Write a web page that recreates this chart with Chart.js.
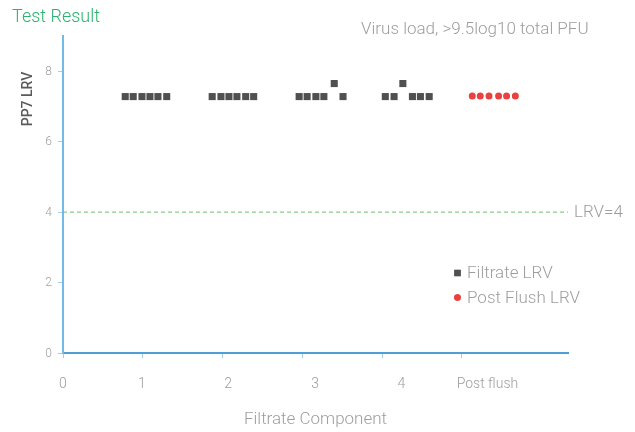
<!DOCTYPE html>
<html>
<head>
<meta charset="utf-8">
<script src="https://cdn.jsdelivr.net/npm/chart.js@4.4.1/dist/chart.umd.min.js"></script>
<style>
  body { margin: 0; background: #fff; }
  #chart { display: block; }
</style>
</head>
<body>
<canvas id="chart" width="635" height="432"></canvas>
<script>
// tick labels along the bottom and where they sit on the x scale
const categories = ["0", "1", "2", "3", "4", "Post flush"];
const categoryPos = [0, 0.99, 2.07, 3.16, 4.24, 5.32];
const xTicks = [0, 1, 2, 3, 4, 5];
const yTicks = [0, 2, 4, 6, 8];

// filtrate LRV, six samples per component
const filtrateX = [
  0.78, 0.88, 0.99, 1.09, 1.19, 1.3,
  1.87, 1.98, 2.08, 2.18, 2.29, 2.39,
  2.96, 3.06, 3.17, 3.27, 3.4, 3.51,
  4.04, 4.15, 4.26, 4.38, 4.48, 4.59
];
const filtrateY = [
  7.28, 7.28, 7.28, 7.28, 7.28, 7.28,
  7.28, 7.28, 7.28, 7.28, 7.28, 7.28,
  7.28, 7.28, 7.28, 7.28, 7.65, 7.28,
  7.28, 7.28, 7.65, 7.28, 7.28, 7.28
];

// post flush LRV
const flushX = [5.13, 5.23, 5.34, 5.46, 5.56, 5.67];
const flushY = [7.3, 7.3, 7.3, 7.3, 7.3, 7.3];

const threshold = 4;
const thresholdLabel = "LRV=4";

const FONT = '"Roboto Light", Roboto';
const GREY = "#9d9d9d";

const toPoints = (xs, ys) => xs.map((x, i) => ({ x: x, y: ys[i] }));

// texts and the LRV=4 line that the axes don't draw themselves
const extras = {
  id: "extras",
  afterDatasetsDraw(chart) {
    const { ctx, chartArea, scales } = chart;
    ctx.save();

    // threshold line
    const ty = scales.y.getPixelForValue(threshold);
    ctx.strokeStyle = "#6cbf6a";
    ctx.lineWidth = 1;
    ctx.setLineDash([4, 3]);
    ctx.beginPath();
    ctx.moveTo(chartArea.left, ty);
    ctx.lineTo(chartArea.right, ty);
    ctx.stroke();
    ctx.setLineDash([]);

    ctx.fillStyle = GREY;
    ctx.font = "300 17px " + FONT;
    ctx.textBaseline = "middle";
    ctx.textAlign = "left";
    ctx.fillText(thresholdLabel, chartArea.right + 6, ty);

    // headings
    ctx.fillStyle = "#2db36f";
    ctx.font = "300 18px " + FONT;
    ctx.textBaseline = "alphabetic";
    ctx.fillText("Test Result", 12, 22);

    ctx.fillStyle = GREY;
    ctx.font = "300 17px " + FONT;
    ctx.fillText("Virus load, >9.5log10 total PFU", 361, 34);

    // y title
    ctx.save();
    ctx.translate(32, 99);
    ctx.rotate(-Math.PI / 2);
    ctx.textAlign = "center";
    ctx.textBaseline = "alphabetic";
    ctx.fillStyle = "#5a5a5a";
    ctx.font = "500 14px Roboto";
    ctx.fillText("PP7 LRV", 0, 0);
    ctx.restore();

    // legend
    chart.data.datasets.forEach((ds, i) => {
      const ly = 273 + i * 24.5;
      ctx.fillStyle = ds.backgroundColor;
      Chart.helpers.drawPoint(ctx, {
        pointStyle: ds.pointStyle,
        radius: ds.pointStyle === "rect" ? 4.5 : 3.3,
        rotation: 0,
        borderWidth: 0
      }, 457.5, ly);
      ctx.fill();
      ctx.fillStyle = GREY;
      ctx.font = "300 17px " + FONT;
      ctx.textBaseline = "middle";
      ctx.textAlign = "left";
      ctx.fillText(ds.label, 467, ly);
    });

    ctx.restore();
  }
};

new Chart(document.getElementById("chart"), {
  type: "scatter",
  data: {
    datasets: [
      {
        label: "Filtrate LRV",
        data: toPoints(filtrateX, filtrateY),
        pointStyle: "rect",
        pointRadius: 5,
        backgroundColor: "#505050",
        borderWidth: 0
      },
      {
        label: "Post Flush LRV",
        data: toPoints(flushX, flushY),
        pointStyle: "circle",
        pointRadius: 3.5,
        backgroundColor: "#e8413f",
        borderWidth: 0
      }
    ]
  },
  options: {
    responsive: false,
    animation: false,
    layout: { padding: { top: 36, right: 67, left: 0, bottom: 0 } },
    plugins: {
      legend: { display: false },
      tooltip: { enabled: false }
    },
    scales: {
      x: {
        type: "linear",
        position: "bottom",
        min: 0,
        max: 6.33,
        afterBuildTicks: (axis) => { axis.ticks = xTicks.map(v => ({ value: v })); },
        afterFit: (axis) => { axis.height = 5; },
        grid: { drawOnChartArea: false, drawTicks: true, tickLength: 5, color: "#9fd0ee" },
        border: { color: "#4f9fd6", width: 2 },
        ticks: { display: false }
      },
      xl: {
        type: "linear",
        position: "bottom",
        min: 0,
        max: 6.33,
        afterBuildTicks: (axis) => { axis.ticks = categoryPos.map(v => ({ value: v })); },
        afterFit: (axis) => { axis.height = 74; },
        grid: { display: false },
        border: { display: false },
        ticks: {
          callback: (v, i) => categories[i],
          autoSkip: false,
          maxRotation: 0,
          padding: 9,
          color: GREY,
          font: { family: FONT, size: 14, weight: 300 }
        },
        title: {
          display: true,
          text: "Filtrate Component",
          color: GREY,
          padding: { top: 0, bottom: 3 },
          font: { family: FONT, size: 17, weight: 300 }
        }
      },
      y: {
        min: 0,
        max: 9,
        afterBuildTicks: (axis) => { axis.ticks = yTicks.map(v => ({ value: v })); },
        afterFit: (axis) => { axis.width = 63; },
        grid: { drawOnChartArea: false, drawTicks: true, tickLength: 5, color: "#9fd0ee" },
        border: { color: "#72bbe6", width: 2 },
        ticks: {
          padding: 6,
          color: GREY,
          font: { family: FONT, size: 12, weight: 300 }
        }
      }
    }
  },
  plugins: [extras]
});
</script>
</body>
</html>
